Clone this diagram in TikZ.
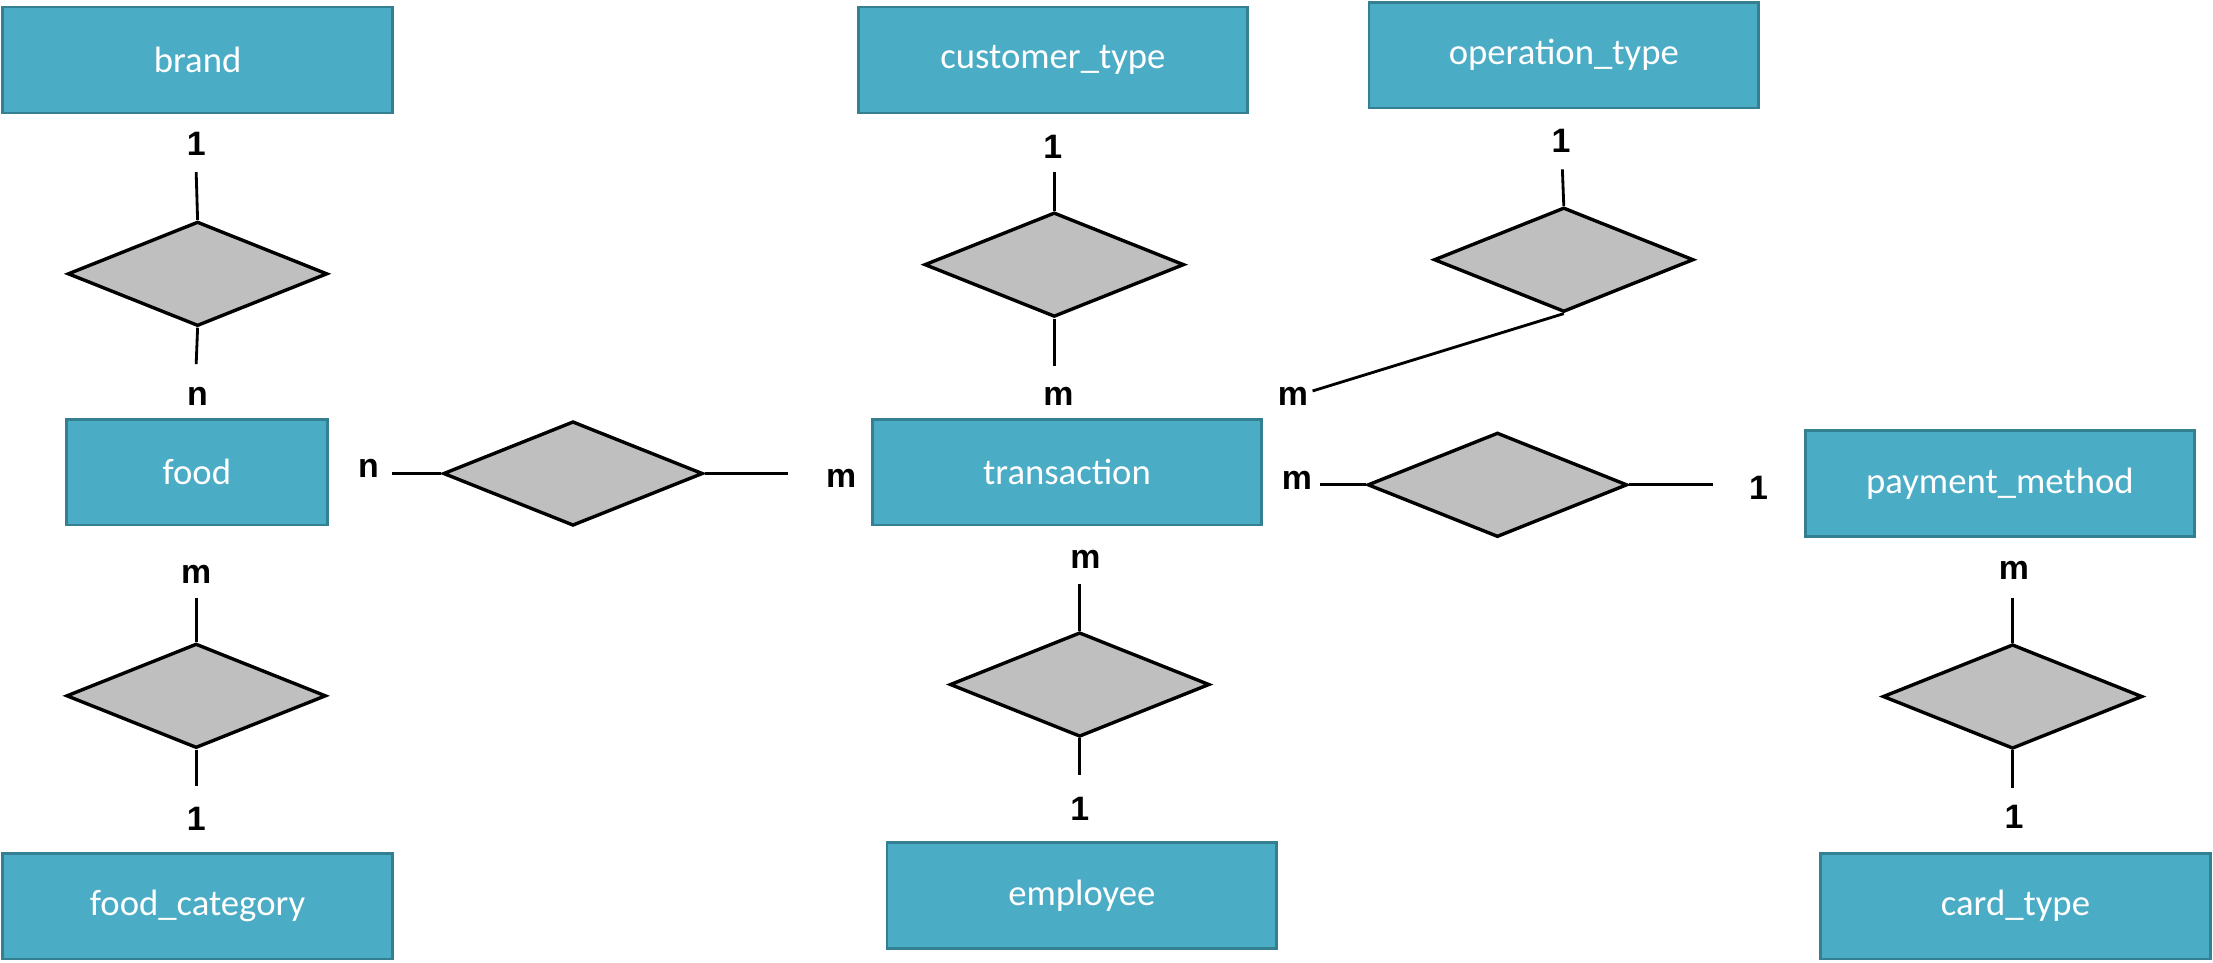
\documentclass[tikz,border=0pt]{standalone}
\usepackage{fontspec}
\setmainfont{Carlito}
\newfontfamily\labfont{Liberation Sans}
\usetikzlibrary{shapes.geometric}
\definecolor{entfill}{HTML}{4BACC6}
\definecolor{entline}{HTML}{357F92}
\definecolor{relfill}{HTML}{BFBFBF}
\tikzset{
  entity/.style={draw=entline, line width=1pt, fill=entfill, text=white,
    minimum width=138pt, minimum height=37.5pt, inner sep=0pt,
    font=\fontsize{13}{15}\selectfont},
  relation/.style={diamond, draw=black, line width=1.2pt, fill=relfill,
    minimum width=92pt, minimum height=37pt, inner sep=0pt, shape aspect=2.49},
  conn/.style={draw=black, line width=1pt},
  card/.style={font=\labfont\bfseries\fontsize{12}{14}\selectfont, inner sep=0pt}
}
\begin{document}
\begin{tikzpicture}[x=0.5pt,y=-0.5pt]
\useasboundingbox (0,0) rectangle (1568,682.3);
% entities
\node[entity] (brand) at (140,42.5) {\raisebox{-1pt}{brand}};
\node[entity] (custtype) at (746,42.5) {\raisebox{-1pt}{customer\_type}};
\node[entity] (optype) at (1108,39) {\raisebox{-1pt}{operation\_type}};
\node[entity, minimum width=92.5pt] (food) at (139.5,334.5) {\raisebox{-1pt}{food}};
\node[entity] (trans) at (756,334.5) {\raisebox{-1pt}{transaction}};
\node[entity] (paym) at (1417,342.5) {\raisebox{-1pt}{payment\_method}};
\node[entity] (foodcat) at (140,642) {\raisebox{-1pt}{food\_category}};
\node[entity] (employee) at (766.5,634.5) {\raisebox{-1pt}{employee}};
\node[entity] (cardtype) at (1428,642) {\raisebox{-1pt}{card\_type}};
% relationships
\node[relation] (r1) at (140,194) {};
\node[relation] (r2) at (406,335.5) {};
\node[relation] (r3) at (747,187.5) {};
\node[relation] (r4) at (1108,184) {};
\node[relation] (r5) at (1061,343.5) {};
\node[relation] (r6) at (139,493) {};
\node[relation] (r7) at (765,485) {};
\node[relation] (r8) at (1426,493.5) {};
% free ends
\coordinate (e1a) at (139,122);
\coordinate (e1b) at (139,258);
\coordinate (e2a) at (278,335.5);
\coordinate (e2b) at (558,335.5);
\coordinate (e3a) at (747,122);
\coordinate (e3b) at (747,259);
\coordinate (e4a) at (1107,120);
\coordinate (e4b) at (930,277);
\coordinate (e5a) at (935,343.5);
\coordinate (e5b) at (1214,343.5);
\coordinate (e6a) at (139,424);
\coordinate (e6b) at (139,557);
\coordinate (e7a) at (765,414);
\coordinate (e7b) at (765,549);
\coordinate (e8a) at (1426,424);
\coordinate (e8b) at (1426,558);
% connectors
\draw[conn] (e1a) -- (r1.north);
\draw[conn] (r1.south) -- (e1b);
\draw[conn] (e2a) -- (r2.west);
\draw[conn] (r2.east) -- (e2b);
\draw[conn] (e3a) -- (r3.north);
\draw[conn] (r3.south) -- (e3b);
\draw[conn] (e4a) -- (r4.north);
\draw[conn] (r4.south) -- (e4b);
\draw[conn] (e5a) -- (r5.west);
\draw[conn] (r5.east) -- (e5b);
\draw[conn] (e6a) -- (r6.north);
\draw[conn] (r6.south) -- (e6b);
\draw[conn] (e7a) -- (r7.north);
\draw[conn] (r7.south) -- (e7b);
\draw[conn] (e8a) -- (r8.north);
\draw[conn] (r8.south) -- (e8b);
% cardinalities
\node[card] (l1) at (139,102) {1};
\node[card] (l2) at (140,281) {n};
\node[card] (l3) at (261,332) {n};
\node[card] (l4) at (596,339) {m};
\node[card] (l5) at (746,104) {1};
\node[card] (l6) at (750,281) {m};
\node[card] (l7) at (1106,100) {1};
\node[card] (l8) at (916,281) {m};
\node[card] (l9) at (919,340) {m};
\node[card] (l10) at (1246,346) {1};
\node[card] (l11) at (139,407) {m};
\node[card] (l12) at (139,580) {1};
\node[card] (l13) at (769,396) {m};
\node[card] (l14) at (765,573) {1};
\node[card] (l15) at (1427,404) {m};
\node[card] (l16) at (1427,579) {1};
\end{tikzpicture}
\end{document}
